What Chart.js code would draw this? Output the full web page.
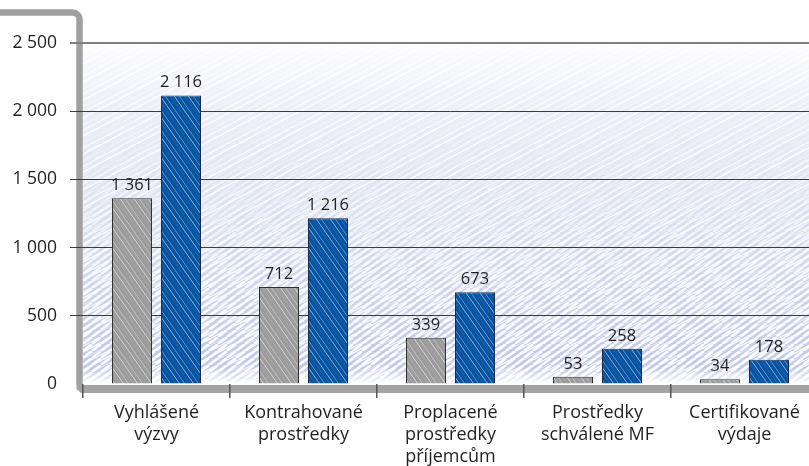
<!DOCTYPE html>
<html>
<head>
<meta charset="utf-8">
<script src="https://cdn.jsdelivr.net/npm/chart.js@4"></script>
<style>
  html, body { margin: 0; padding: 0; background: #fff; }
  #wrap { width: 809px; height: 466px; overflow: hidden; position: relative; }
  canvas { display: block; }
</style>
</head>
<body>
<div id="wrap"><canvas id="graf" width="820" height="466"></canvas></div>
<script>
// kategorie a hodnoty (mil. Kč)
const kategorie = [
  ["Vyhlášené", "výzvy"],
  ["Kontrahované", "prostředky"],
  ["Proplacené", "prostředky", "příjemcům"],
  ["Prostředky", "schválené MF"],
  ["Certifikované", "výdaje"]
];
const hodnotySede = [1361, 712, 339, 53, 34];
const hodnotyModre = [2116, 1216, 673, 258, 178];
const osaY = [0, 500, 1000, 1500, 2000, 2500];

const PISMO = "'Open Sans', 'DejaVu Sans', sans-serif";

// tisíce oddělené mezerou
function formatCislo(v) {
  return String(v).replace(/\B(?=(\d{3})+(?!\d))/g, " ");
}

// šikmé čáry v dlaždici w×h, směr dolů (sestupne) nebo nahoru
function dlazdice(w, h, cary, barva, sestupne) {
  const c = document.createElement("canvas");
  c.width = w; c.height = h;
  const g = c.getContext("2d");
  cary.forEach(([x0, a, lw]) => {
    g.strokeStyle = barva.replace("A", a);
    g.lineWidth = lw;
    for (const dx of [-w, 0, w]) {
      g.beginPath();
      if (sestupne) { g.moveTo(x0 + dx, 0); g.lineTo(x0 + dx + w, h); }
      else { g.moveTo(x0 + dx, h); g.lineTo(x0 + dx + w, 0); }
      g.stroke();
    }
  });
  return c;
}

// šrafa sloupců: světlé šikmé tahy přes základní barvu
function srafaSloupce(zaklad, tah) {
  const w = 14, h = 20;
  const c = document.createElement("canvas");
  c.width = w; c.height = h;
  const g = c.getContext("2d");
  g.fillStyle = zaklad;
  g.fillRect(0, 0, w, h);
  g.drawImage(dlazdice(w, h, [[0, 0.45, 0.9], [5, 0.2, 0.7], [9, 0.6, 1]], tah, true), 0, 0);
  return g.createPattern(c, "repeat");
}

// pozadí, rám vlevo nahoře a podlaha
const pozadiPlugin = {
  id: "pozadi",
  beforeDraw(chart) {
    const { ctx, chartArea: a } = chart;
    const sir = a.right - a.left, vys = a.bottom - a.top;
    ctx.save();
    const grad = ctx.createLinearGradient(0, a.top, 0, a.bottom);
    grad.addColorStop(0, "#fdfdfe");
    grad.addColorStop(0.2, "#eceef7");
    grad.addColorStop(0.55, "#d9def0");
    grad.addColorStop(1, "#bcc6e7");
    ctx.fillStyle = grad;
    ctx.fillRect(a.left, a.top, sir, vys);

    // řídké bílé tahy po celé ploše
    ctx.fillStyle = ctx.createPattern(
      dlazdice(34, 18, [[0, 0.9, 1.5], [13, 0.55, 1], [23, 0.8, 1.3]], "rgba(255,255,255,A)", false), "repeat");
    ctx.fillRect(a.left, a.top, sir, vys);

    // husté bílé tahy, sílí směrem dolů
    const vrstva = document.createElement("canvas");
    vrstva.width = sir; vrstva.height = vys;
    const v = vrstva.getContext("2d");
    v.fillStyle = v.createPattern(
      dlazdice(9, 7, [[0, 1, 2.6]], "rgba(255,255,255,A)", false), "repeat");
    v.fillRect(0, 0, sir, vys);
    v.globalCompositeOperation = "destination-in";
    const maska = v.createLinearGradient(0, 0, 0, vys);
    maska.addColorStop(0, "rgba(0,0,0,0)");
    maska.addColorStop(0.3, "rgba(0,0,0,0.15)");
    maska.addColorStop(0.65, "rgba(0,0,0,0.8)");
    maska.addColorStop(1, "rgba(0,0,0,1)");
    v.fillStyle = maska;
    v.fillRect(0, 0, sir, vys);
    ctx.drawImage(vrstva, a.left, a.top);

    // světlý pás nad podlahou
    const dol = ctx.createLinearGradient(0, a.bottom - 16, 0, a.bottom);
    dol.addColorStop(0, "rgba(255,255,255,0)");
    dol.addColorStop(0.5, "rgba(255,255,255,0.5)");
    dol.addColorStop(1, "rgba(255,255,255,1)");
    ctx.fillStyle = dol;
    ctx.fillRect(a.left, a.bottom - 16, sir, 16);

    // rám
    ctx.strokeStyle = "#a0a0a0";
    ctx.lineWidth = 6.5;
    ctx.lineJoin = "round";
    ctx.beginPath();
    ctx.moveTo(0, 12.5);
    ctx.arcTo(a.left - 3.5, 12.5, a.left - 3.5, 30, 7);
    ctx.lineTo(a.left - 3.5, a.bottom + 1);
    ctx.stroke();

    // podlaha
    ctx.fillStyle = "#a3a3a3";
    ctx.beginPath();
    ctx.moveTo(a.left - 6.5, a.bottom + 1);
    ctx.lineTo(a.right + 5, a.bottom + 1);
    ctx.lineTo(a.right + 5, a.bottom + 9);
    ctx.lineTo(a.left - 2, a.bottom + 9);
    ctx.lineTo(a.left - 6.5, a.bottom + 5);
    ctx.closePath();
    ctx.fill();
    ctx.restore();
  }
};

// hodnoty nad sloupci
const popiskyPlugin = {
  id: "popisky",
  afterDatasetsDraw(chart) {
    const { ctx } = chart;
    ctx.save();
    ctx.font = "16.5px " + PISMO;
    ctx.fillStyle = "#231f20";
    ctx.textAlign = "center";
    ctx.textBaseline = "alphabetic";
    chart.data.datasets.forEach((ds, i) => {
      chart.getDatasetMeta(i).data.forEach((bar, j) => {
        ctx.fillText(formatCislo(ds.data[j]), bar.x, bar.y - 8);
      });
    });
    ctx.restore();
  }
};

const ctx = document.getElementById("graf").getContext("2d");
new Chart(ctx, {
  type: "bar",
  data: {
    labels: kategorie,
    datasets: [
      {
        data: hodnotySede,
        backgroundColor: srafaSloupce("#9b9b9b", "rgba(255,255,255,A)"),
        borderColor: "#2f2f2f",
        borderWidth: 1,
        categoryPercentage: 0.667,
        barPercentage: 0.816
      },
      {
        data: hodnotyModre,
        backgroundColor: srafaSloupce("#0553a1", "rgba(235,242,255,A)"),
        borderColor: "#1c2b45",
        borderWidth: 1,
        categoryPercentage: 0.667,
        barPercentage: 0.816
      }
    ]
  },
  options: {
    responsive: false,
    animation: false,
    layout: { padding: { top: 43, right: 2, left: 0, bottom: 0 } },
    plugins: {
      legend: { display: false },
      tooltip: { enabled: false }
    },
    scales: {
      y: {
        min: 0,
        max: 2500,
        afterFit: (s) => { s.width = 83; },
        afterBuildTicks: (s) => { s.ticks = osaY.map((v) => ({ value: v })); },
        border: { display: false },
        grid: {
          tickLength: 13,
          color: (c) => c.tick.value === 0 ? "rgba(0,0,0,0)" : (c.tick.value === 2500 ? "#808080" : "#3c3c3c"),
          lineWidth: (c) => c.tick.value === 2500 ? 2 : 1
        },
        ticks: {
          padding: 13,
          color: "#231f20",
          font: { family: PISMO, size: 17.5 },
          callback: (v) => formatCislo(v)
        }
      },
      x: {
        afterFit: (s) => { s.height = 82; },
        border: { display: false },
        grid: {
          offset: true,
          drawOnChartArea: false,
          tickLength: 14,
          color: "#555",
          lineWidth: 1.5
        },
        ticks: {
          padding: 4,
          color: "#231f20",
          maxRotation: 0,
          font: { family: PISMO, size: 18, lineHeight: 1.22 }
        }
      }
    }
  },
  plugins: [pozadiPlugin, popiskyPlugin]
});
</script>
</body>
</html>
